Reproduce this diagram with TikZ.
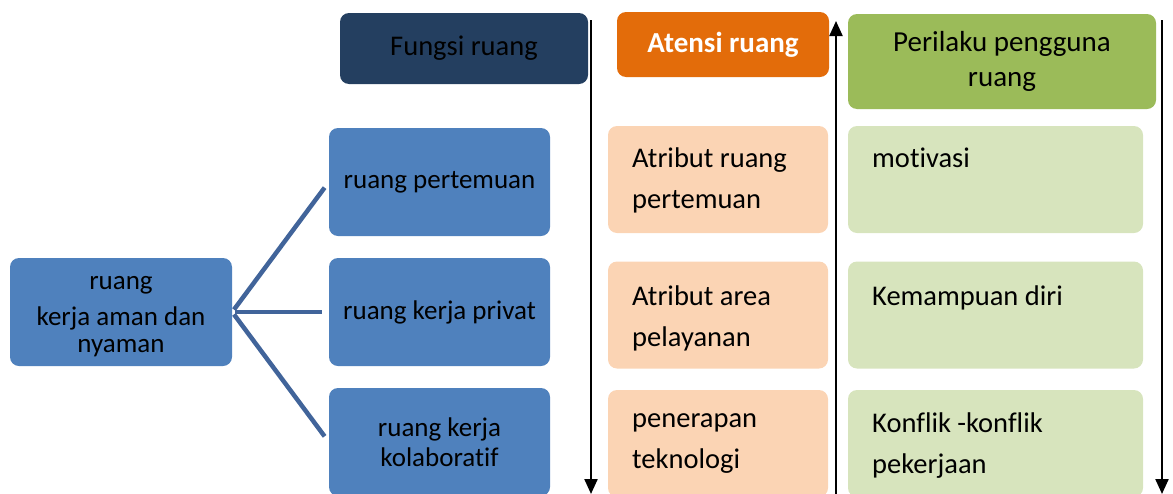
\documentclass[tikz,border=0pt]{standalone}
\usepackage{fontspec}
\setmainfont[Ligatures={NoCommon}]{Carlito}
\usetikzlibrary{arrows.meta}
\definecolor{navy}{HTML}{243F60}
\definecolor{orng}{HTML}{E36C0A}
\definecolor{grn}{HTML}{9BBB59}
\definecolor{blu}{HTML}{4F81BD}
\definecolor{lorng}{HTML}{FBD4B4}
\definecolor{lgrn}{HTML}{D7E4BD}
\definecolor{conn}{HTML}{41649A}
\tikzset{
  box/.style={rounded corners=9pt, inner sep=0pt, draw=none},
  bluebox/.style={box, fill=blu, minimum width=221pt, minimum height=108pt, align=center,
    font=\fontsize{27}{30}\selectfont},
  obox/.style={box, fill=lorng, minimum width=220pt, minimum height=107pt},
  gbox/.style={box, fill=lgrn, minimum width=295pt, minimum height=107pt},
  coltext/.style={anchor=north west, inner sep=0pt, align=left, font=\fontsize{28.5}{41}\selectfont},
  conline/.style={draw=conn, line width=4.5pt, shorten >=7pt, shorten <=3pt},
  flow/.style={draw=black, line width=2.2pt, -{Triangle[length=15pt,width=13pt]}}
}
\begin{document}
\begin{tikzpicture}[x=1pt,y=-1pt]
\useasboundingbox (0,0) rectangle (1173,493);
\clip (0,0) rectangle (1173,493);
% headers
\node[box, fill=navy, minimum width=248pt, minimum height=71pt, font=\fontsize{28.5}{34}\selectfont] (h1) at (464,48.5) {Fungsi ruang};
\node[box, fill=orng, minimum width=212pt, minimum height=65pt, text=white, font=\bfseries\fontsize{29}{32}\selectfont] (h2) at (723,44.5) {Atensi ruang};
\node[box, fill=grn, minimum width=308pt, minimum height=95pt, align=center, font=\fontsize{29}{35}\selectfont] (h3) at (1002,61.5) {Perilaku pengguna\\ruang};
% root and children
\node[bluebox, minimum width=222pt] (root) at (121,312) {};
\node[inner sep=0pt, align=center, font=\fontsize{27}{30}\selectfont] (roott) at (121,317) {ruang\\[6pt]kerja aman dan\\[-3pt]nyaman};
\node[bluebox] (c1) at (439.5,182) {ruang pertemuan};
\node[bluebox] (c2) at (439.5,312) {ruang kerja privat};
\node[bluebox] (c3) at (439.5,442) {ruang kerja\\kolaboratif};
\draw[conline] (root.east) -- (c1.west);
\draw[conline] (root.east) -- (c2.west);
\draw[conline] (root.east) -- (c3.west);
% attention column
\node[obox] (o1) at (718,179.5) {};
\node[obox] (o2) at (718,315) {};
\node[obox] (o3) at (718,443.5) {};
\node[coltext] (o1t) at (632,148) {Atribut ruang\\pertemuan};
\node[coltext] (o2t) at (632,286) {Atribut area\\pelayanan};
\node[coltext] (o3t) at (632,413) {penerapan\\teknologi};
% behaviour column
\node[gbox] (g1) at (995.5,179.5) {};
\node[gbox] (g2) at (995.5,315) {};
\node[gbox] (g3) at (995.5,443.5) {};
\node[coltext] (g1t) at (872,148) {motivasi};
\node[coltext] (g2t) at (872,286) {Kemampuan diri};
\node[coltext] (g3t) at (872,413) {Konflik -konflik\\pekerjaan};
% flow arrows
\coordinate (a1s) at (591,20);
\coordinate (a1e) at (591,494);
\coordinate (a2s) at (836,494);
\coordinate (a2e) at (836,21);
\coordinate (a3s) at (1162,20);
\coordinate (a3e) at (1162,494);
\draw[flow] (a1s) -- (a1e);
\draw[flow] (a2s) -- (a2e);
\draw[flow] (a3s) -- (a3e);
\end{tikzpicture}
\end{document}
